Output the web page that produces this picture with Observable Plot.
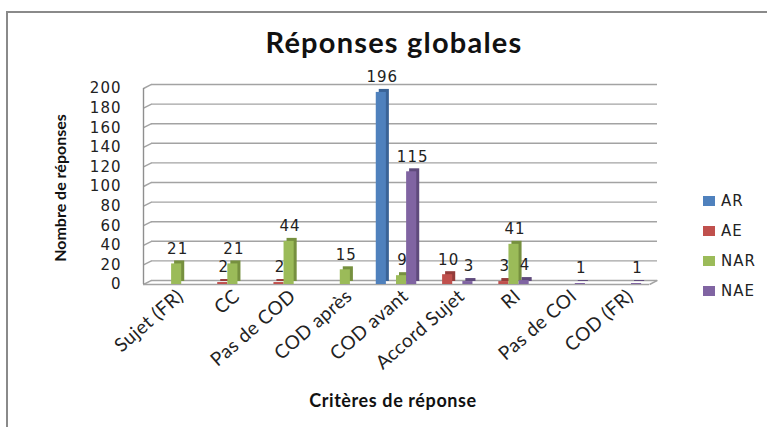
<!DOCTYPE html>
<html><head><meta charset="utf-8">
<script src="https://cdn.jsdelivr.net/npm/d3@7"></script>
<script src="https://cdn.jsdelivr.net/npm/@observablehq/plot@0.6"></script>
<style>
body{margin:0;background:#fff;}
#wrap{position:relative;width:767px;height:427px;overflow:hidden;background:#fff;}
#border{position:absolute;left:6px;top:11px;right:-5px;bottom:-5px;border-left:2px solid #8a8a8a;border-top:2px solid #8a8a8a;}
#title{position:absolute;left:0;width:788px;top:24px;text-align:center;font:bold 29px Lato;letter-spacing:1.2px;color:#111;}
#ylab{position:absolute;left:59px;top:188px;transform:translate(-50%,-50%) rotate(-90deg);white-space:nowrap;font:bold 16px Lato;color:#111;}
#xlab{position:absolute;left:393px;top:400px;transform:translate(-50%,-50%);white-space:nowrap;font:bold 18px Lato;letter-spacing:0.6px;color:#111;}
#legend{position:absolute;left:703px;top:192px;}
.li{position:absolute;left:0;white-space:nowrap;font:15px "DejaVu Sans";letter-spacing:1px;color:#222;}
.sw{display:inline-block;width:12px;height:10px;margin-right:6px;vertical-align:0px;}
#chart{position:absolute;left:0;top:0;}
#chart g[aria-label="y-axis tick label"] text, #chart g[aria-label="text"] text{letter-spacing:1px;}
#chart g[aria-label="x-axis tick label"] text{letter-spacing:0.4px;}
</style>
</head><body>
<div id="wrap">
  <div id="border"></div>
  <div id="chart"></div>
  <div id="title">Réponses globales</div>
  <div id="ylab">Nombre de réponses</div>
  <div id="xlab">Critères de réponse</div>
  <div id="legend"></div>
</div>
<script>
const categories = ["Sujet (FR)", "CC", "Pas de COD", "COD après", "COD avant", "Accord Sujet", "RI", "Pas de COI", "COD (FR)"];
const seriesNames = ["AR", "AE", "NAR", "NAE"];
const AR  = [0, 0, 0, 0, 196, 0, 0, 0, 0];
const AE  = [0, 2, 2, 0, 0, 10, 3, 0, 0];
const NAR = [21, 21, 44, 15, 9, 0, 41, 0, 0];
const NAE = [0, 0, 0, 0, 115, 3, 4, 1, 1];
const yTicks = [0, 20, 40, 60, 80, 100, 120, 140, 160, 180, 200];
const colors = ["#4F81BD", "#C0504D", "#9BBB59", "#8064A2"];
const sideColors = ["#3A6396", "#943C3A", "#76903F", "#5F4A7C"];

const seriesValues = [AR, AE, NAR, NAE];
const rows = [];
seriesValues.forEach((vals, k) => vals.forEach((v, i) => {
  if (v > 0) rows.push({cat: categories[i], i, k, series: seriesNames[k], v});
}));

const BW = 0.18;               // bar width in category units
const DX = 0.142, DY = 4.1;    // depth of the 3D wall in data units
const bx1 = d => d.i + 0.5 + (d.k - 2) * BW;
const bx2 = d => d.i + 0.5 + (d.k - 1) * BW;
const bxc = d => d.i + 0.5 + (d.k - 1.5) * BW;
const sideFill = d => sideColors[d.k];
const frontFill = d => colors[d.k];

const plot = Plot.plot({
  width: 767, height: 427,
  marginTop: 88, marginBottom: 143, marginLeft: 143, marginRight: 118,
  x: {domain: [0, categories.length], axis: null},
  y: {domain: [0, 200], axis: null},
  marks: [
    Plot.ruleY(yTicks, {dx: 8, dy: -4, stroke: "#a3a3a3", strokeWidth: 1.4}),
    Plot.link(yTicks, {x1: 0, x2: DX, y1: d => d, y2: d => d + DY, stroke: "#a3a3a3", strokeWidth: 1.4}),
    Plot.link([0], {x1: categories.length, x2: categories.length + DX, y1: 0, y2: DY, stroke: "#a3a3a3", strokeWidth: 1.4}),
    Plot.ruleY([0], {stroke: "#a3a3a3", strokeWidth: 1.4}),
    Plot.ruleX([0], {y1: 0, y2: 200, stroke: "#8f8f8f", strokeWidth: 1.4}),
    Plot.rectY(rows, {x1: bx1, x2: bx2, y1: 0, y2: "v", fill: sideFill, dx: 3, dy: -3}),
    Plot.rectY(rows, {x1: bx1, x2: bx2, y1: 0, y2: "v", fill: frontFill}),
    Plot.text(rows, {x: bxc, y: "v", text: d => String(d.v), dy: -15, dx: 1, fontSize: 15, fontFamily: "DejaVu Sans", fill: "#222"}),
    Plot.axisY(yTicks, {tickSize: 0, tickPadding: 22, fontSize: 15, fontFamily: "DejaVu Sans", fill: "#222", label: null}),
    Plot.axisX(categories.map((c, i) => i + 0.5), {tickFormat: t => categories[t - 0.5], tickRotate: -41, tickSize: 0, tickPadding: 9, dx: 9, fontSize: 19, fontFamily: "Lato", fill: "#222", label: null})
  ]
});
document.getElementById("chart").appendChild(plot);

const legend = document.getElementById("legend");
seriesNames.forEach((s, k) => {
  const div = document.createElement("div");
  div.className = "li";
  div.style.top = (k * 30) + "px";
  div.innerHTML = `<span class="sw" style="background:${colors[k]}"></span>${s}`;
  legend.appendChild(div);
});
</script>
</body></html>
